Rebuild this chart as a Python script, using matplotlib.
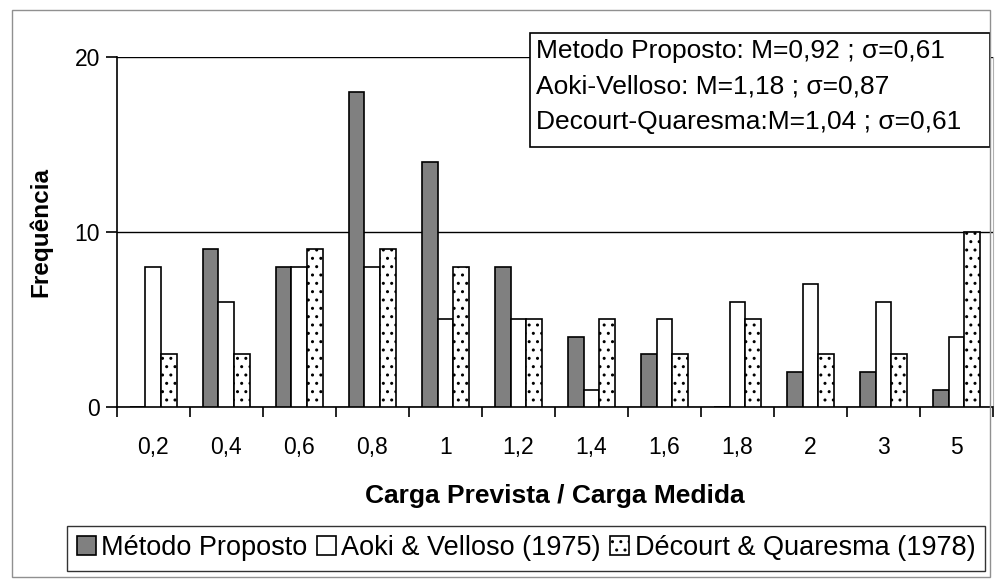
import numpy as np
import matplotlib
matplotlib.use("Agg")
import matplotlib.pyplot as plt
from matplotlib.patches import Rectangle

plt.rcParams['font.family'] = ['Liberation Sans', 'DejaVu Sans']
plt.rcParams['hatch.linewidth'] = 1.0

categories = ["0,2", "0,4", "0,6", "0,8", "1", "1,2", "1,4", "1,6", "1,8", "2", "3", "5"]
metodo_proposto = [0, 9, 8, 18, 14, 8, 4, 3, 0, 2, 2, 1]
aoki_velloso = [8, 6, 8, 8, 5, 5, 1, 5, 6, 7, 6, 4]
decourt_quaresma = [3, 3, 9, 9, 8, 5, 5, 3, 5, 3, 3, 10]
series_labels = ["Método Proposto", "Aoki & Velloso (1975)", "Décourt & Quaresma (1978)"]
stats_text = ["Metodo Proposto: M=0,92 ; σ=0,61",
              "Aoki-Velloso: M=1,18 ; σ=0,87",
              "Decourt-Quaresma:M=1,04 ; σ=0,61"]

fig = plt.figure(figsize=(9.98, 5.79), dpi=100)
ax = fig.add_axes([0.117, 0.297, 0.878, 0.605])

x = np.arange(len(categories))
w = 0.215
ax.bar(x - w, metodo_proposto, w, color="#808080", edgecolor="black", linewidth=1.2, zorder=3,
       label=series_labels[0])
ax.bar(x, aoki_velloso, w, color="white", edgecolor="black", linewidth=1.2, zorder=3,
       label=series_labels[1])
ax.bar(x + w, decourt_quaresma, w, color="white", edgecolor="black", linewidth=1.2, hatch="..",
       zorder=3, label=series_labels[2])

ax.set_xlim(-0.5, len(categories) - 0.5)
ax.set_ylim(0, 20)
ax.set_yticks([0, 10, 20])
ax.yaxis.grid(True, color="black", linewidth=1.0, zorder=0)
ax.set_xticks(x)
ax.set_xticklabels(categories, fontsize=16.5)
ax.tick_params(axis="x", length=0, pad=21)
ax.set_xticks(np.arange(len(categories) + 1) - 0.5, minor=True)
ax.tick_params(axis="x", which="minor", length=7, width=1.2, direction="out")
ax.tick_params(axis="y", labelsize=16.5, length=8, width=1.2, pad=4)

ax.spines["top"].set_visible(False)
ax.spines["right"].set_color("#b0b0b0")
ax.spines["left"].set_linewidth(1.2)
ax.spines["bottom"].set_linewidth(1.2)

ax.set_ylabel("Frequência", fontsize=17.5, fontweight="bold", labelpad=16)
ax.set_xlabel("Carga Prevista / Carga Medida", fontsize=19, fontweight="bold", labelpad=18)

# stats box
ax.add_patch(Rectangle((0.4715, 0.743), 0.525, 0.3256, transform=ax.transAxes, clip_on=False,
                       facecolor="white", edgecolor="black", linewidth=1.2, zorder=5))
ax.text(0.479, 1.052, "\n".join(stats_text), transform=ax.transAxes, fontsize=19,
        va="top", ha="left", linespacing=1.62, zorder=6)

handles, labels = ax.get_legend_handles_labels()
leg = fig.legend(handles, labels, loc="center", bbox_to_anchor=(0.527, 0.0535), ncol=3,
                 fontsize=19.5, frameon=True, fancybox=False, edgecolor="black",
                 handlelength=0.7, handleheight=0.7, handletextpad=0.2, columnspacing=0.35,
                 borderpad=0.35, borderaxespad=0)
leg.get_frame().set_linewidth(1.0)

fig.patches.append(Rectangle((0.012, 0.004), 0.98, 0.978, transform=fig.transFigure,
                             fill=False, edgecolor="#909090", linewidth=1.0))

fig.savefig("out.png", dpi=100)
